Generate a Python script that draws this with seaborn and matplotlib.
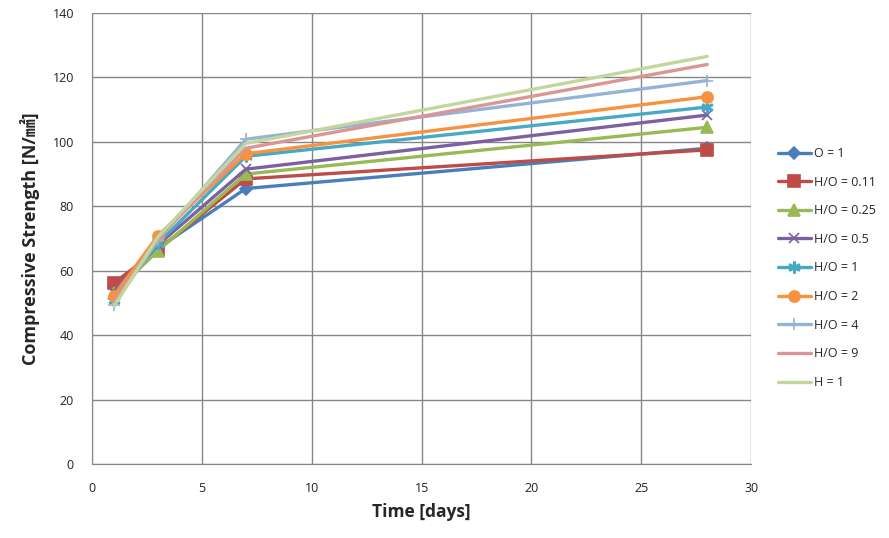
import seaborn as sns
import matplotlib.pyplot as plt
import pandas as pd

# Curing time in days
days = [1, 3, 7, 28]

# Series names (mix ratio) and their strength values
labels = ['O = 1', 'H/O = 0.11', 'H/O = 0.25', 'H/O = 0.5', 'H/O = 1',
          'H/O = 2', 'H/O = 4', 'H/O = 9', 'H = 1']
o_1 = [55.0, 67.0, 85.5, 98.0]
ho_011 = [56.2, 66.5, 88.5, 97.5]
ho_025 = [53.0, 66.2, 90.0, 104.5]
ho_05 = [53.5, 68.0, 91.5, 108.3]
ho_1 = [51.0, 68.5, 95.5, 110.8]
ho_2 = [52.3, 70.9, 96.3, 114.0]
ho_4 = [49.5, 69.5, 100.8, 119.0]
ho_9 = [50.5, 70.0, 98.0, 124.0]
h_1 = [49.0, 70.5, 99.5, 126.5]
values = [o_1, ho_011, ho_025, ho_05, ho_1, ho_2, ho_4, ho_9, h_1]

colors = ['#4A7EBB', '#BE4B48', '#98B954', '#7D60A0', '#46AAC5',
          '#F69240', '#95B3D7', '#D99694', '#C3D69B']
markers = ['D', 's', '^', 'x', '$\\ast$', 'o', '+', None, None]
msizes = [6, 8, 8, 7, 8, 8, 9, 0, 0]

rows = []
for name, vals in zip(labels, values):
    for d, v in zip(days, vals):
        rows.append({'series': name, 'day': d, 'strength': v})
df = pd.DataFrame(rows)

sns.set_style('white')
fig = plt.figure(figsize=(8.89, 5.38), dpi=100)
ax = fig.add_axes([0.1035, 0.1375, 0.7415, 0.8385])

for name, c, m, ms in zip(labels, colors, markers, msizes):
    sub = df[df['series'] == name]
    sns.lineplot(data=sub, x='day', y='strength', ax=ax, color=c,
                 marker=m, markersize=ms, markeredgecolor=c,
                 markeredgewidth=1.2, linewidth=2.4, label=name)

ax.set_xlim(0, 30)
ax.set_ylim(0, 140)
ax.set_xticks(range(0, 31, 5))
ax.set_yticks(range(0, 141, 20))
ax.grid(True, color='#868686', linewidth=1.0)
for s in ['top', 'right']:
    ax.spines[s].set_visible(False)
for s in ['left', 'bottom']:
    ax.spines[s].set_color('#868686')
ax.tick_params(axis='both', direction='out', length=5, color='#868686',
               labelsize=9, labelcolor='#222222', pad=8)
for t in ax.get_xticklabels() + ax.get_yticklabels():
    t.set_family(['Open Sans', 'DejaVu Sans'])

ax.set_xlabel('Time [days]', fontsize=12.5, fontweight='bold',
              family=['Open Sans', 'DejaVu Sans'], labelpad=6)
ax.set_ylabel('Compressive Strength [N/㎟]', fontsize=13, fontweight='bold',
              family=['Open Sans', 'Noto Sans CJK KR', 'DejaVu Sans'], labelpad=9)

leg = ax.legend(loc='center left', bbox_to_anchor=(0.8625, 0.502),
                bbox_transform=fig.transFigure, frameon=False,
                fontsize=9, labelspacing=1.25, handlelength=2.6,
                handletextpad=0.3)
for t in leg.get_texts():
    t.set_family(['Open Sans', 'DejaVu Sans'])

plt.savefig('out.png', dpi=100)
